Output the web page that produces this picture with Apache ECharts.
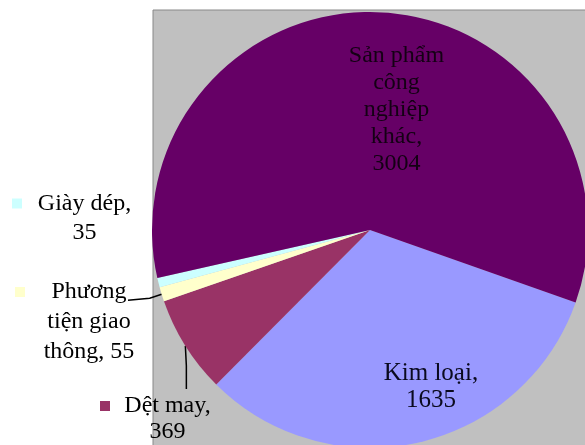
<!DOCTYPE html>
<html><head><meta charset="utf-8">
<script src="https://cdn.jsdelivr.net/npm/echarts@6/dist/echarts.min.js"></script>
<style>html,body{margin:0;padding:0;background:#fff}#c{width:585px;height:445px}</style>
</head><body><div id="c"></div>
<script>
const categories = ['Kim loại', 'Dệt may', 'Phương tiện giao thông', 'Giày dép', 'Sản phẩm công nghiệp khác'];
const values = [1635, 369, 55, 35, 3004];
const labelTemplates = [['Kim loại,', '{v}'], ['Dệt may,', '{v}'], ['Phương', 'tiện giao', 'thông, {v}'], ['Giày dép,', '{v}'], ['Sản phẩm', 'công', 'nghiệp', 'khác,', '{v}']];
const colors = ['#9999FF', '#993366', '#FFFFCC', '#CCFFFF', '#660066'];

const FONT = '"Liberation Serif", "Times New Roman", serif';
const outsideCfg = {
  1: {x: 100, y: 393, lh: 26, gap: 9, w: 97},
  2: {x: 15, y: 277, lh: 30, gap: 14, w: 100},
  3: {x: 12, y: 189, lh: 29, gap: 15, w: 95}
};
const insideShift = {0: [36, 48], 4: [20, -8]};

const data = categories.map((name, i) => {
  const lines = labelTemplates[i].map(s => s.replace('{v}', values[i]));
  const item = {name, value: values[i], itemStyle: {color: colors[i]}};
  if (outsideCfg[i]) {
    const c = outsideCfg[i];
    const str = lines.map((l, k) => k === 0 ? '{m|}{g|}{t|' + l + '}' : '{s|}{t|' + l + '}').join('\n');
    item.label = {
      show: true, position: 'outside', formatter: str,
      fontFamily: FONT, fontSize: 24,
      rich: {
        m: {width: 10, height: 10, backgroundColor: colors[i], lineHeight: c.lh},
        g: {width: c.gap, lineHeight: c.lh},
        s: {width: 10 + c.gap, lineHeight: c.lh},
        t: {width: c.w, align: 'center', fontSize: 24, fontFamily: FONT, color: '#000', lineHeight: c.lh}
      }
    };
    item.labelLine = {show: i !== 3, lineStyle: {color: '#000', width: 1.5}};
  } else {
    item.label = {
      show: true, position: 'inside', formatter: lines.join('\n'),
      fontSize: i === 0 ? 25 : 24, fontFamily: FONT, lineHeight: 27,
      color: i === 4 ? '#140014' : '#0a0a1e'
    };
  }
  return item;
});

const chart = echarts.init(document.getElementById('c'), null, {renderer: 'canvas'});
chart.setOption({
  backgroundColor: '#ffffff',
  animation: false,
  textStyle: {fontFamily: FONT},
  graphic: [{
    type: 'rect', z: -100, silent: true,
    shape: {x: 153, y: 10, width: 460, height: 460},
    style: {fill: '#C0C0C0', stroke: '#888888', lineWidth: 1}
  }],
  series: [{
    type: 'pie',
    center: [370, 230],
    radius: 218,
    startAngle: -19.4,
    clockwise: true,
    avoidLabelOverlap: false,
    minShowLabelAngle: 0,
    itemStyle: {borderWidth: 0},
    emphasis: {disabled: true},
    data: data,
    labelLayout: function (p) {
      const i = p.dataIndex;
      if (insideShift[i]) {
        return {dx: insideShift[i][0], dy: insideShift[i][1]};
      }
      const c = outsideCfg[i];
      const res = {x: c.x, y: c.y, align: 'left', verticalAlign: 'top'};
      const e = p.labelLinePoints && p.labelLinePoints[0];
      if (e && i === 2) {
        res.labelLinePoints = [[e[0], e[1]], [e[0] - 12, e[1] + 4], [128, e[1] + 6]];
      } else if (e && i === 1) {
        res.labelLinePoints = [[e[0], e[1]], [e[0] + 1, e[1] + 20], [e[0] + 1, c.y - 4]];
      }
      return res;
    }
  }]
});
</script>
</body></html>
